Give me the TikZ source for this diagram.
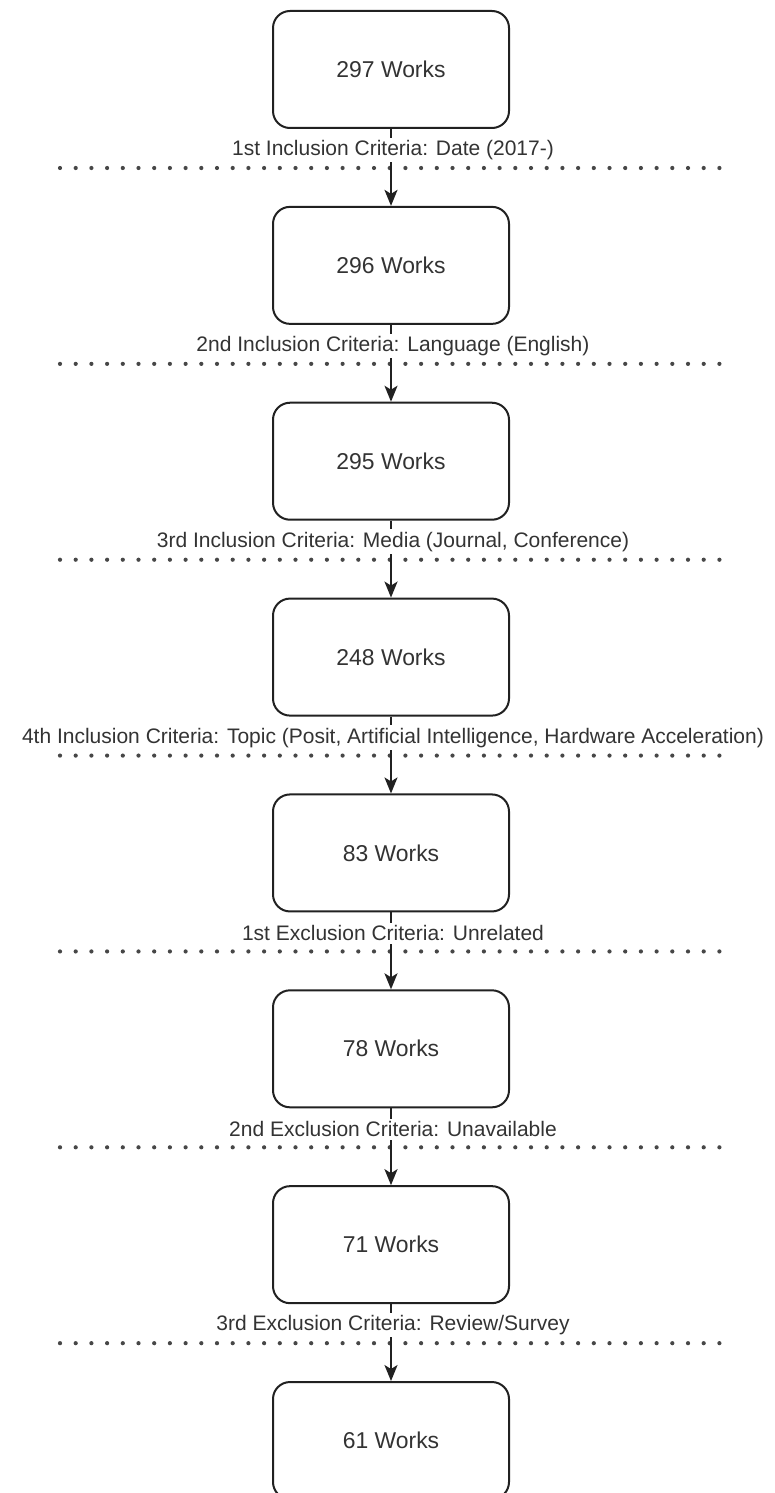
\documentclass[tikz,border=0pt]{standalone}
\usepackage{fontspec}
\setmainfont{Liberation Sans}
\usetikzlibrary{arrows.meta}
\definecolor{txtc}{gray}{0.2}
\definecolor{linec}{gray}{0.13}
\definecolor{dotc}{gray}{0.28}
\tikzset{
  workbox/.style={draw=linec, line width=2pt, rounded corners=17pt, minimum width=236pt, minimum height=117pt, inner sep=0pt, text=txtc, font=\fontsize{22.9}{27}\selectfont},
  critlabel/.style={fill=white, inner xsep=1pt, inner ysep=2.5pt, text=txtc, font=\fontsize{21}{25}\selectfont},
  flowarrow/.style={draw=linec, line width=2pt, -{Stealth[length=16pt,width=13pt,inset=4pt]}},
  dotline/.style={draw=dotc, line width=4.2pt, line cap=round, dash pattern=on 0pt off 15.7pt}
}
\begin{document}
\begin{tikzpicture}[x=1pt,y=-1pt]
\clip (0,0) rectangle (774,1493);
\fill[white] (0,0) rectangle (774,1493);
% boxes
\foreach \i/\t in {0/297,1/296,2/295,3/248,4/83,5/78,6/71,7/61}{
  \node[workbox] (b\i) at (391,{69.5+195.86*\i}) {\t\ Works};
}
% dotted separators
\foreach \i in {0,...,6}{
  \coordinate (dl\i) at (60,{168+195.86*\i});
  \coordinate (dr\i) at (730,{168+195.86*\i});
  \draw[dotline] (dl\i) -- (dr\i);
}
% arrows
\foreach \i/\j in {0/1,1/2,2/3,3/4,4/5,5/6,6/7}{
  \draw[flowarrow] (b\i.south) -- (b\j.north);
}
% labels
\foreach \i/\t in {0/{1st Inclusion Criteria: Date (2017-)},
                   1/{2nd Inclusion Criteria: Language (English)},
                   2/{3rd Inclusion Criteria: Media (Journal, Conference)},
                   3/{4th Inclusion Criteria: Topic (Posit, Artificial Intelligence, Hardware Acceleration)},
                   4/{1st Exclusion Criteria: Unrelated},
                   5/{2nd Exclusion Criteria: Unavailable},
                   6/{3rd Exclusion Criteria: Review/Survey}}{
  \node[critlabel] (l\i) at (393,{150+195.86*\i}) {\t};
}
\end{tikzpicture}
\end{document}
